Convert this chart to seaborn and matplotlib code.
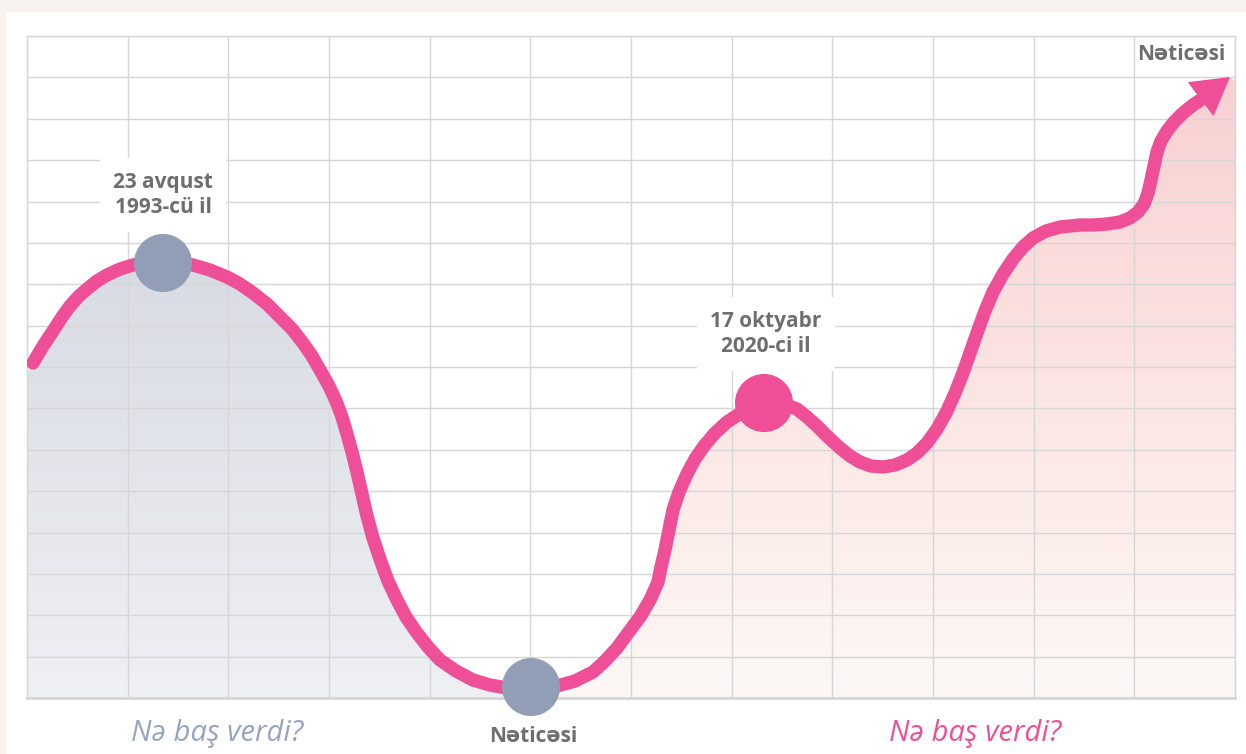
import numpy as np
import matplotlib
matplotlib.use("Agg")
import matplotlib.pyplot as plt
from matplotlib.colors import LinearSegmentedColormap
from matplotlib.patches import Polygon, Rectangle
import seaborn as sns

# Timeline curve (x across 12 columns of 100.67, y across 16 rows of 41.375)
path_x = [6, 16, 26, 35, 43, 52, 60, 70, 80, 93, 106, 121, 136, 151, 166, 183,
          200, 213, 226, 240, 253, 265, 276, 285, 293, 302, 309, 315, 320, 325,
          330, 335, 340, 346, 353, 361, 370, 379, 390, 401, 413, 429, 446, 463,
          480, 493, 504, 517, 530, 548, 566, 578, 590, 601, 613, 623, 631, 634,
          638, 642, 646, 652, 660, 668, 677, 688, 700, 717, 737, 754, 770, 780,
          790, 801, 813, 823, 833, 844, 856, 868, 880, 890, 900, 910, 920, 928,
          936, 943, 950, 958, 966, 976, 986, 996, 1006, 1019, 1033, 1043, 1053,
          1066, 1080, 1093, 1103, 1111, 1117, 1121, 1124, 1127, 1130, 1134, 1140,
          1147, 1156, 1166, 1175, 1183, 1203]
path_y = [335, 352, 367, 381, 392, 402, 409, 417, 423, 429, 433, 436, 437, 436,
          433, 428, 421, 414, 405, 394, 381, 369, 355, 342, 328, 312, 297, 281,
          264, 246, 226, 204, 182, 160, 139, 117, 98, 81, 65, 51, 38, 27, 18, 13,
          10, 10, 11, 11, 12, 17, 26, 37, 50, 65, 81, 98, 116, 131, 148, 168,
          188, 206, 224, 239, 252, 265, 276, 287, 296, 295, 289, 281, 272, 261,
          250, 242, 236, 232, 231, 233, 238, 245, 255, 269, 287, 305, 325, 345,
          365, 387, 406, 424, 439, 451, 460, 467, 471, 472, 473, 473, 474, 476,
          480, 486, 494, 505, 518, 532, 546, 557, 567, 576, 585, 593, 599, 604,
          621]

# Key events on the curve
event_x = [136, 504, 737]
event_y = [435, 11, 295]
event_colors = ["#929db6", "#929db6", "#ee4f97"]
event_labels = ["23 avqust\n1993-cü il", "17 oktyabr\n2020-ci il"]

X_MAX, Y_MAX = 1208, 662
PINK = "#ee4f97"
GREY_TEXT = "#6e6e6e"

sns.set_theme(style="white")
plt.rcParams["font.family"] = ["Open Sans", "DejaVu Sans"]

fig = plt.figure(figsize=(12.46, 7.54), dpi=100)
fig.patch.set_facecolor("#f8f3ef")
fig.add_artist(Rectangle((6 / 1246, 0), 1 - 6 / 1246, 1 - 12 / 754,
                         transform=fig.transFigure, facecolor="white",
                         edgecolor="none", zorder=0))

ax = fig.add_axes([27 / 1246, 56 / 754, 1208 / 1246, 662 / 754])
ax.set_facecolor("none")

x = np.array(path_x, dtype=float)
y = np.array(path_y, dtype=float)
split = event_x[1]

# Gradient fills under the curve: grey before the low point, pink after it
left = x <= split
right = x >= split
poly_left = np.column_stack([np.r_[0, x[left], x[left][-1], 0],
                             np.r_[y[0] - 12, y[left], 0, 0]])
poly_right = np.column_stack([np.r_[x[right], X_MAX, X_MAX, x[right][0]],
                              np.r_[y[right], y[-1] - 4, 0, 0]])

grad = np.linspace(0, 1, 256).reshape(-1, 1)
grey_cmap = LinearSegmentedColormap.from_list("g", ["#eef0f4", "#d8dbe3"])
pink_cmap = LinearSegmentedColormap.from_list(
    "p", [(0, "#fdf8f6"), (0.4, "#fce9e5"), (1, "#f8d0d2")])

for poly, cmap, top in [(poly_left, grey_cmap, 440), (poly_right, pink_cmap, 625)]:
    patch = Polygon(poly, closed=True, facecolor="none", edgecolor="none")
    ax.add_patch(patch)
    im = ax.imshow(grad, extent=[0, X_MAX, 0, top], origin="lower", aspect="auto",
                   cmap=cmap, zorder=1, interpolation="bilinear")
    im.set_clip_path(patch)

# Curve
sns.lineplot(x=path_x[:-2], y=path_y[:-2], sort=False, color=PINK, linewidth=9.6,
             solid_capstyle="round", solid_joinstyle="round", ax=ax, zorder=3)

# Arrow head at the end of the curve
ax.annotate("", xy=(path_x[-1], path_y[-1]), xytext=(path_x[-4], path_y[-4]),
            arrowprops=dict(arrowstyle="-|>,head_length=2.5,head_width=1.45",
                            color=PINK, lw=1, joinstyle="round",
                            shrinkA=0, shrinkB=0, mutation_scale=10),
            zorder=3, annotation_clip=False)

# Event markers
sns.scatterplot(x=event_x, y=event_y, hue=[0, 1, 2], palette=event_colors,
                s=1750, linewidth=0, legend=False, ax=ax, zorder=4, clip_on=False)

# Labels
box = dict(boxstyle="square,pad=0.65", facecolor="white", edgecolor="none")
ax.text(event_x[0], 503, event_labels[0], ha="center", va="center",
        fontsize=15, fontweight="bold", color=GREY_TEXT, linespacing=1.25,
        bbox=box, zorder=5)
ax.text(event_x[2] + 2, 364, event_labels[1], ha="center", va="center",
        fontsize=15, fontweight="bold", color=GREY_TEXT, linespacing=1.25,
        bbox=box, zorder=5)
ax.text(1154, 643, "Nəticəsi", ha="center", va="center", fontsize=15,
        fontweight="bold", color=GREY_TEXT, zorder=5)
ax.text(506, -38, "Nəticəsi", ha="center", va="center", fontsize=15,
        fontweight="bold", color=GREY_TEXT, clip_on=False)
ax.text(190, -36, "Nə baş verdi?", ha="center", va="center", fontsize=21,
        fontstyle="italic", color="#97a3bf", clip_on=False)
ax.text(948, -36, "Nə baş verdi?", ha="center", va="center", fontsize=21,
        fontstyle="italic", color=PINK, clip_on=False)

# Grid
ax.set_xlim(0, X_MAX)
ax.set_ylim(0, Y_MAX)
ax.set_xticks(np.linspace(0, X_MAX, 13))
ax.set_yticks(np.linspace(0, Y_MAX, 17))
ax.tick_params(length=0, labelbottom=False, labelleft=False)
ax.set_axisbelow(False)
ax.grid(True, color="#d6d6d6", linewidth=1.0, zorder=2)
ax.set_xlabel("")
ax.set_ylabel("")
for name, sp in ax.spines.items():
    sp.set_visible(True)
    sp.set_color("#d6d6d6")
    sp.set_linewidth(2.0 if name == "bottom" else 1.0)
    sp.set_zorder(2)

fig.savefig("out.png", dpi=100)
